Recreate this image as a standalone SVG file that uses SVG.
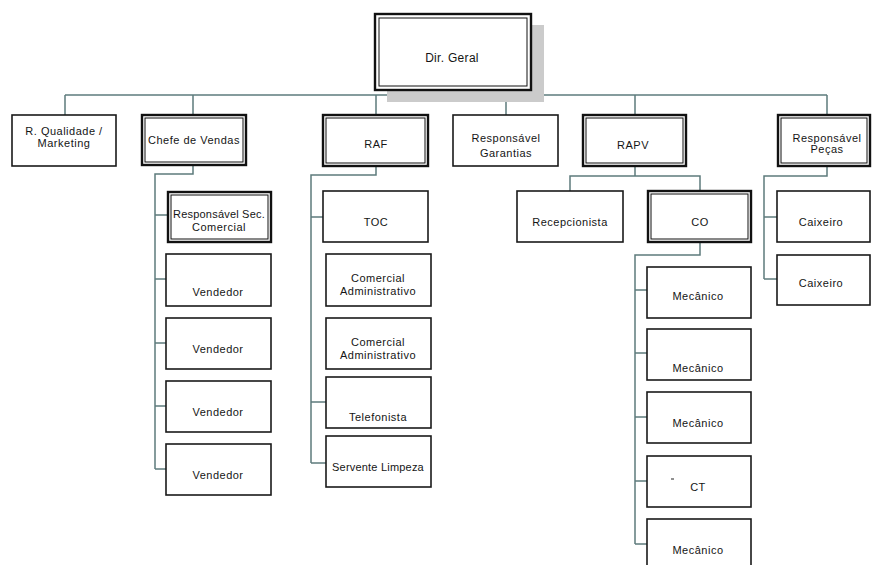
<svg xmlns="http://www.w3.org/2000/svg" width="873" height="565" viewBox="0 0 873 565">
  <style>
    .box { fill: #ffffff; stroke: #1a1a1a; stroke-width: 1.6; }
    .outer { fill: #ffffff; stroke: #111111; stroke-width: 2.4; }
    .inner { fill: none; stroke: #111111; stroke-width: 1; }
    .lbl { font-family: "Liberation Sans", Arial, sans-serif; font-size: 11px; letter-spacing: 0.5px; fill: #151515; text-anchor: middle; }
    .big { font-size: 12px; letter-spacing: 0.3px; }
    .wire { fill: none; stroke: #5d7b7c; stroke-width: 1.5; }
  </style>

  <!-- connectors -->
  <g id="connectors" class="wire">
    <path d="M65,95 H827"/>
    <path d="M452,90 V95"/>
    <path d="M65,95 V115 M193,95 V115 M376,95 V115 M506,95 V115 M635,95 V115 M827,95 V115"/>
    <!-- Chefe de Vendas branch -->
    <path d="M193,165 V174 H155 V469"/>
    <path d="M155,215 H168 M155,279 H166 M155,343 H166 M155,406 H166 M155,469 H166"/>
    <!-- RAF branch -->
    <path d="M376,166 V175 H311 V463"/>
    <path d="M311,217 H323 M311,402 H326 M311,463 H326"/>
    <!-- RAPV branch -->
    <path d="M635,166 V176 M570,191 V176 H700 V191"/>
    <!-- CO branch -->
    <path d="M700,242 V255 H635 V544"/>
    <path d="M635,290 H647 M635,353 H647 M635,417 H647 M635,481 H647 M635,544 H647"/>
    <!-- Peças branch -->
    <path d="M827,166 V176 H764 V279"/>
    <path d="M764,217 H777 M764,279 H777"/>
  </g>

  <!-- top level -->
  <g id="dir-geral">
    <rect x="387" y="25" width="157" height="77" fill="#cbcbcb"/>
    <rect class="outer" x="375" y="14" width="156" height="76"/>
    <rect class="inner" x="379" y="18" width="148" height="68"/>
    <text class="lbl big" x="452" y="62">Dir. Geral</text>
  </g>

  <!-- first level -->
  <g id="r-qualidade">
    <rect class="box" x="12" y="115" width="104" height="51"/>
    <text class="lbl" x="64" y="135">R. Qualidade /</text>
    <text class="lbl" x="64" y="147">Marketing</text>
  </g>
  <g id="chefe-vendas">
    <rect class="outer" x="142" y="115" width="104" height="50"/>
    <rect class="inner" x="145" y="118" width="98" height="44"/>
    <text class="lbl" x="194" y="144">Chefe de Vendas</text>
  </g>
  <g id="raf">
    <rect class="outer" x="323" y="115" width="105" height="51"/>
    <rect class="inner" x="326" y="118" width="99" height="45"/>
    <text class="lbl" x="376" y="148">RAF</text>
  </g>
  <g id="resp-garantias">
    <rect class="box" x="453" y="115" width="105" height="51"/>
    <text class="lbl" x="506" y="142">Responsável</text>
    <text class="lbl" x="506" y="157">Garantias</text>
  </g>
  <g id="rapv">
    <rect class="outer" x="583" y="115" width="103" height="51"/>
    <rect class="inner" x="586" y="118" width="97" height="45"/>
    <text class="lbl" x="633" y="149">RAPV</text>
  </g>
  <g id="resp-pecas">
    <rect class="outer" x="778" y="115" width="92" height="51"/>
    <rect class="inner" x="781" y="118" width="86" height="45"/>
    <text class="lbl" x="827" y="142">Responsável</text>
    <text class="lbl" x="827" y="153">Peças</text>
  </g>

  <!-- Chefe de Vendas column -->
  <g id="resp-sec-comercial">
    <rect class="outer" x="168" y="192" width="103" height="50"/>
    <rect class="inner" x="171" y="195" width="97" height="44"/>
    <text class="lbl" x="219" y="218" style="letter-spacing:0.2px">Responsável Sec.</text>
    <text class="lbl" x="219" y="231">Comercial</text>
  </g>
  <g id="vendedor-1">
    <rect class="box" x="166" y="254" width="105" height="52"/>
    <text class="lbl" x="218" y="296">Vendedor</text>
  </g>
  <g id="vendedor-2">
    <rect class="box" x="166" y="318" width="105" height="51"/>
    <text class="lbl" x="218" y="353">Vendedor</text>
  </g>
  <g id="vendedor-3">
    <rect class="box" x="166" y="381" width="105" height="51"/>
    <text class="lbl" x="218" y="416">Vendedor</text>
  </g>
  <g id="vendedor-4">
    <rect class="box" x="166" y="444" width="105" height="51"/>
    <text class="lbl" x="218" y="479">Vendedor</text>
  </g>

  <!-- RAF column -->
  <g id="toc">
    <rect class="box" x="323" y="191" width="105" height="51"/>
    <text class="lbl" x="376" y="226">TOC</text>
  </g>
  <g id="comercial-adm-1">
    <rect class="box" x="326" y="254" width="105" height="52"/>
    <text class="lbl" x="378" y="282">Comercial</text>
    <text class="lbl" x="378" y="295">Administrativo</text>
  </g>
  <g id="comercial-adm-2">
    <rect class="box" x="326" y="318" width="105" height="51"/>
    <text class="lbl" x="378" y="346">Comercial</text>
    <text class="lbl" x="378" y="359">Administrativo</text>
  </g>
  <g id="telefonista">
    <rect class="box" x="326" y="377" width="105" height="51"/>
    <text class="lbl" x="378" y="421">Telefonista</text>
  </g>
  <g id="servente-limpeza">
    <rect class="box" x="326" y="436" width="105" height="51"/>
    <text class="lbl" x="378" y="471" style="letter-spacing:0.2px">Servente Limpeza</text>
  </g>

  <!-- RAPV column -->
  <g id="rececionista">
    <rect class="box" x="517" y="191" width="106" height="51"/>
    <text class="lbl" x="570" y="226">Recepcionista</text>
  </g>
  <g id="co">
    <rect class="outer" x="648" y="191" width="103" height="51"/>
    <rect class="inner" x="651" y="194" width="97" height="45"/>
    <text class="lbl" x="700" y="226">CO</text>
  </g>
  <g id="mecanico-1">
    <rect class="box" x="647" y="267" width="104" height="51"/>
    <text class="lbl" x="698" y="300">Mecânico</text>
  </g>
  <g id="mecanico-2">
    <rect class="box" x="647" y="329" width="104" height="51"/>
    <text class="lbl" x="698" y="372">Mecânico</text>
  </g>
  <g id="mecanico-3">
    <rect class="box" x="647" y="392" width="104" height="51"/>
    <text class="lbl" x="698" y="427">Mecânico</text>
  </g>
  <g id="ct">
    <rect class="box" x="647" y="456" width="104" height="51"/>
    <path d="M671,479 H674" stroke="#222" stroke-width="1"/>
    <text class="lbl" x="698" y="491">CT</text>
  </g>
  <g id="mecanico-4">
    <rect class="box" x="647" y="519" width="104" height="51"/>
    <text class="lbl" x="698" y="554">Mecânico</text>
  </g>

  <!-- Peças column -->
  <g id="caixeiro-1">
    <rect class="box" x="777" y="191" width="93" height="51"/>
    <text class="lbl" x="821" y="226">Caixeiro</text>
  </g>
  <g id="caixeiro-2">
    <rect class="box" x="777" y="255" width="93" height="50"/>
    <text class="lbl" x="821" y="287">Caixeiro</text>
  </g>
</svg>
